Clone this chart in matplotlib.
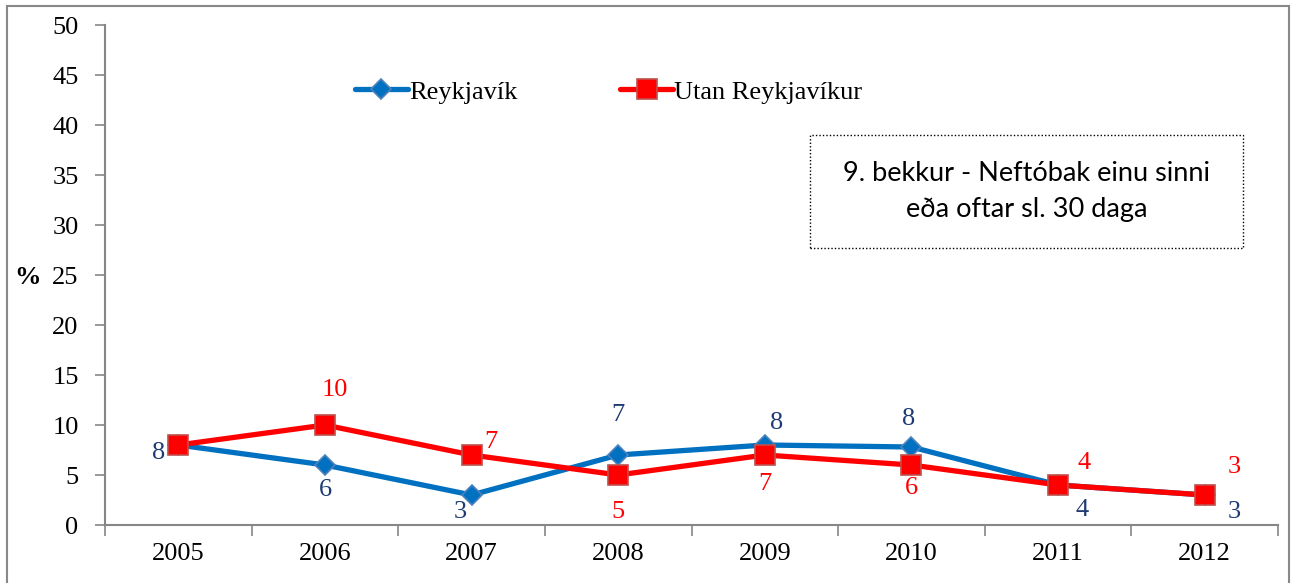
import matplotlib
matplotlib.use("Agg")
import matplotlib.pyplot as plt
import matplotlib.patches as mpatches
import numpy as np

years = ["2005", "2006", "2007", "2008", "2009", "2010", "2011", "2012"]
reykjavik = [8, 6, 3, 7, 8, 7.8, 4, 3]
utan = [8, 10, 7, 5, 7, 6, 4, 3]
reykjavik_labels = ["8", "6", "3", "7", "8", "8", "4", "3"]
utan_labels = ["", "10", "7", "5", "7", "6", "4", "3"]

# label offsets in pixels (dx, dy up)
rvk_off = [(-20, -8), (0, -25), (-11, -17), (0, 40), (12, 22), (-3, 28), (24, -25), (30, -17)]
utan_off = [(0, 0), (10, 35), (19, 13), (0, -37), (0, -29), (0, -23), (26, 22), (30, 28)]

serif = "Liberation Serif"
FS = 19
fig = plt.figure(figsize=(12.95, 5.83), dpi=100)
ax = fig.add_axes([105/1295, 1-525/583, 1173/1295, 500/583])

x = np.arange(len(years))
ax.plot(x, utan, color="#FF0000", lw=3.8, marker="s", markersize=14,
        markerfacecolor="#FF0000", markeredgecolor="#C0504D", markeredgewidth=1.2,
        label="Utan Reykjavíkur", zorder=3, solid_capstyle="round")
ax.plot(x, reykjavik, color="#0070C0", lw=3.8, marker="D", markersize=10,
        markerfacecolor="#0070C0", markeredgecolor="#4F81BD", markeredgewidth=1.2,
        label="Reykjavík", zorder=2, solid_capstyle="round")

px2pt = 0.72
for i in range(len(years)):
    if reykjavik_labels[i]:
        dx, dy = rvk_off[i]
        ax.annotate(reykjavik_labels[i], (x[i], reykjavik[i]), xytext=(dx*px2pt, dy*px2pt),
                    textcoords="offset points", ha="center", va="center",
                    fontsize=FS, family=serif, color="#1F3B73", zorder=5)
    if utan_labels[i]:
        dx, dy = utan_off[i]
        ax.annotate(utan_labels[i], (x[i], utan[i]), xytext=(dx*px2pt, dy*px2pt),
                    textcoords="offset points", ha="center", va="center",
                    fontsize=FS, family=serif, color="#FF0000", zorder=5)

ax.set_xlim(-0.5, len(years) - 0.5)
ax.set_ylim(0, 50)
ax.set_yticks(np.arange(0, 51, 5))
ax.set_yticklabels([str(v) for v in range(0, 51, 5)], family=serif, fontsize=FS)
ax.set_xticks(np.arange(-0.5, len(years), 1.0))
ax.set_xticklabels([])
ax.set_xticks(x, minor=True)
ax.set_xticklabels(years, minor=True, family=serif, fontsize=FS)
ax.tick_params(axis="x", which="major", length=8, width=1.2, color="#868686", direction="out")
ax.tick_params(axis="x", which="minor", length=0, pad=13)
ax.tick_params(axis="y", length=7, width=1.2, color="#868686", direction="out", pad=12)

for s in ["top", "right"]:
    ax.spines[s].set_visible(False)
for s in ["left", "bottom"]:
    ax.spines[s].set_color("#868686")
    ax.spines[s].set_linewidth(1.5)

ax.text(-0.066, 0.494, "%", transform=ax.transAxes, family=serif, fontsize=FS,
        fontweight="bold", ha="center", va="center")

handles, labels = ax.get_legend_handles_labels()
leg = ax.legend(handles[::-1], labels[::-1], loc="center left", bbox_to_anchor=(0.213, 0.866),
                ncol=2, frameon=False, prop={"family": serif, "size": FS},
                handlelength=2.0, handletextpad=0.05, columnspacing=3.9, borderaxespad=0,
                borderpad=0)

# text box
box = mpatches.Rectangle((0.601, 0.554), 0.369, 0.226, transform=ax.transAxes,
                         fill=False, edgecolor="black", linestyle=(0, (1, 1.5)), lw=1.0)
ax.add_patch(box)
ax.text(0.7855, 0.667, "9. bekkur - Neftóbak einu sinni\neða oftar sl. 30 daga",
        transform=ax.transAxes, ha="center", va="center", family="Lato", fontsize=19.5,
        linespacing=1.55)

# figure border
fig.patches.append(mpatches.Rectangle((7/1295, -0.02), (1289-7)/1295, 1-6/583+0.02,
                                      transform=fig.transFigure, fill=False,
                                      edgecolor="#888888", lw=1.5))

fig.savefig("out.png", dpi=100)
